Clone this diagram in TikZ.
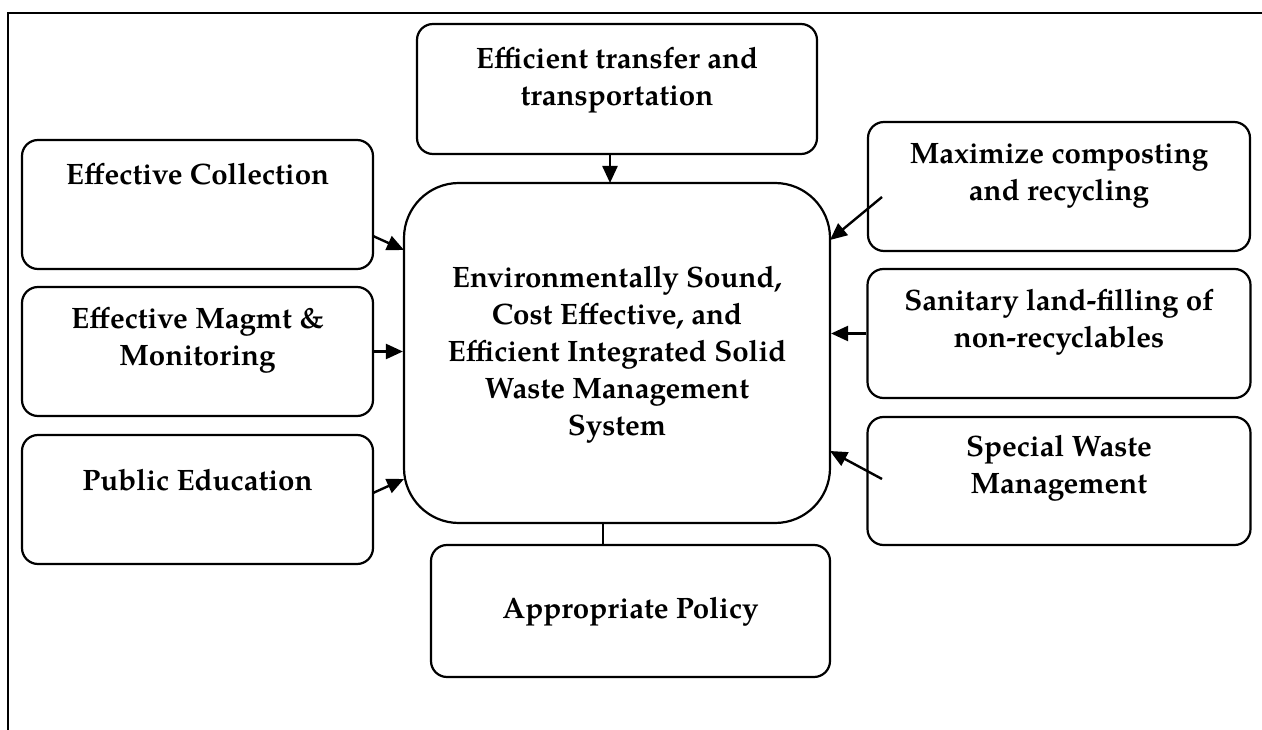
\documentclass[tikz,border=0pt]{standalone}
\usepackage{fontspec}
\setmainfont{TeX Gyre Pagella}
\usetikzlibrary{arrows.meta,calc}
\tikzset{
  box/.style={draw, line width=2.2pt, rounded corners=16pt, inner sep=0pt},
  bigbox/.style={draw, line width=2.2pt, rounded corners=55pt, inner sep=0pt},
  lbl/.style={align=center, inner sep=0pt, font=\bfseries\fontsize{29.5}{37}\selectfont},
  arr/.style={line width=2.4pt, -{Triangle[length=17pt,width=15pt]}},
  plain/.style={line width=2.4pt},
  frame/.style={line width=2.2pt}
}
\begin{document}
\begin{tikzpicture}[x=1pt,y=-1pt]
\useasboundingbox (0,0) rectangle (1262,730);
% frame
\coordinate (fTL) at (8,13);
\coordinate (fTR) at (1262,13);
\coordinate (fBL) at (8,730);
\draw[frame] (fTR) -- (fTL) -- (fBL);
% boxes
\node[box, minimum width=400pt, minimum height=130pt] (trans) at (617,89) {};
\node[bigbox, minimum width=426pt, minimum height=340pt] (main) at (617,353) {};
\node[box, minimum width=351pt, minimum height=129pt] (col) at (197.5,204.5) {};
\node[box, minimum width=351pt, minimum height=129pt] (mag) at (197.5,351.5) {};
\node[box, minimum width=351pt, minimum height=129pt] (pub) at (197.5,499.5) {};
\node[box, minimum width=382pt, minimum height=129pt] (max) at (1059,186.5) {};
\node[box, minimum width=383pt, minimum height=129pt] (san) at (1059,333.5) {};
\node[box, minimum width=383pt, minimum height=128pt] (spe) at (1059,481) {};
\node[box, minimum width=399pt, minimum height=132pt] (pol) at (630.5,611) {};
% labels
\node[lbl] (transT) at (617,80) {Efficient transfer and\\transportation};
\node[lbl] (mainT) at (617,355) {Environmentally Sound,\\Cost Effective, and\\Efficient Integrated Solid\\Waste Management\\System};
\node[lbl] (colT) at (197.5,174) {Effective Collection};
\node[lbl] (magT) at (197.5,340) {Effective Magmt \&\\Monitoring};
\node[lbl] (pubT) at (197.5,480) {Public Education};
\node[lbl] (maxT) at (1059,176) {Maximize composting\\and recycling};
\node[lbl] (sanT) at (1059,322) {Sanitary land-filling of\\non-recyclables};
\node[lbl] (speT) at (1059,468) {Special Waste\\Management};
\node[lbl] (polT) at (630.5,612) {Appropriate Policy};
% connector end points
\coordinate (tA) at (610,154);
\coordinate (tB) at (610,183);
\coordinate (pA) at (603,523);
\coordinate (pB) at (603,545);
\coordinate (cA) at (373,236);
\coordinate (cB) at (404,250);
\coordinate (uA) at (373,493);
\coordinate (uB) at (404,479);
\coordinate (xA) at (882,197);
\coordinate (xB) at (830,240);
\coordinate (sA) at (882,479);
\coordinate (sB) at (830,451);
% connectors
\draw[arr] (tA) -- (tB);
\draw[arr] (cA) -- (cB);
\draw[arr] (mag.east) -- (mag.east -| main.west);
\draw[arr] (uA) -- (uB);
\draw[arr] (xA) -- (xB);
\draw[arr] (san.west) -- (san.west -| main.east);
\draw[arr] (sA) -- (sB);
\draw[plain] (pA) -- (pB);
\end{tikzpicture}
\end{document}
